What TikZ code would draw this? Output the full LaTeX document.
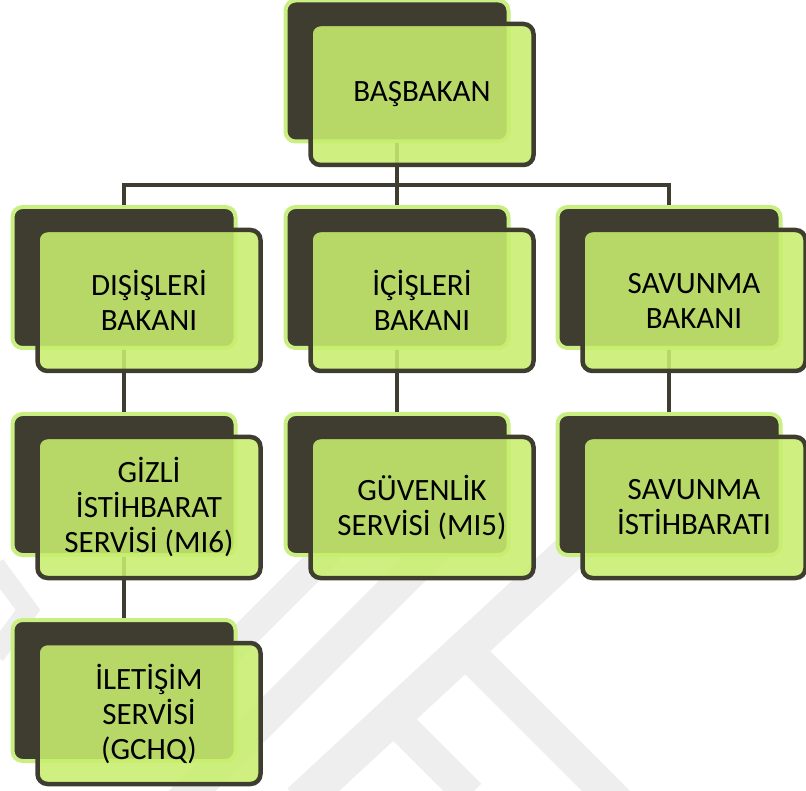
\documentclass[tikz,border=0pt]{standalone}
\usepackage{fontspec}
\setmainfont{Carlito}
\definecolor{koyu}{HTML}{3F3C30}
\definecolor{acik}{HTML}{C9EE82}
\definecolor{yesil}{HTML}{C8EE6E}
\definecolor{filigran}{HTML}{EEEEEE}
\tikzset{
  arka/.style={draw=acik,line width=4pt,fill=koyu,rounded corners=10pt,
    minimum width=223pt,minimum height=141pt},
  on/.style={draw=koyu,line width=4.5pt,fill=yesil,fill opacity=0.88,text opacity=1,
    rounded corners=10pt,minimum width=223pt,minimum height=141pt,
    align=center,font=\fontsize{31}{35}\selectfont},
  bag/.style={koyu,line width=4pt},
  iz/.style={filigran,line width=#1}
}
\begin{document}
\begin{tikzpicture}[x=1pt,y=-1pt]
  \useasboundingbox (0,0) rectangle (806,791);
  \clip (0,0) rectangle (806,791);
  % filigran
  \draw[iz=28pt] (190,690) -- (330,550);
  \draw[iz=33pt] (180,803) -- (440,543);
  \draw[iz=37pt] (300,802) -- (580,543);
  \draw[iz=34pt] (470,655) -- (620,805);
  \draw[iz=32pt] (400,725) -- (470,795);
  \draw[iz=20pt] (-5,565) -- (28,610) -- (-5,655);
  % arka kutular
  \node[arka] (b0) at (397,71) {};
  \node[arka] (b1) at (124,277.5) {};
  \node[arka] (b2) at (397,277.5) {};
  \node[arka] (b3) at (669,277.5) {};
  \node[arka] (b4) at (124,484.5) {};
  \node[arka] (b5) at (397,484.5) {};
  \node[arka] (b6) at (669,484.5) {};
  \node[arka] (b7) at (124,690.5) {};
  % baglantilar
  \coordinate (kol) at (397,185);
  \draw[bag] (b0.south) -- (kol);
  \draw[bag] (b1.north) |- (kol) -| (b3.north);
  \draw[bag] (kol) -- (b2.north);
  \draw[bag] (b1.south) -- (b4.north);
  \draw[bag] (b2.south) -- (b5.north);
  \draw[bag] (b3.south) -- (b6.north);
  \draw[bag] (b4.south) -- (b7.north);
  % on kutular
  \node[on] (f0) at (422,94.5) {BAŞBAKAN};
  \node[on] (f1) at (149,300.5) {DIŞİŞLERİ\\BAKANI};
  \node[on] (f2) at (422,300.5) {İÇİŞLERİ\\BAKANI};
  \node[on] (f3) at (694,300.5) {SAVUNMA\\BAKANI};
  \node[on] (f4) at (149,507.5) {GİZLİ\\İSTİHBARAT\\SERVİSİ (MI6)};
  \node[on] (f5) at (422,507.5) {GÜVENLİK\\SERVİSİ (MI5)};
  \node[on] (f6) at (694,507.5) {SAVUNMA\\İSTİHBARATI};
  \node[on] (f7) at (149,713.5) {İLETİŞİM\\SERVİSİ\\(GCHQ)};
\end{tikzpicture}
\end{document}
